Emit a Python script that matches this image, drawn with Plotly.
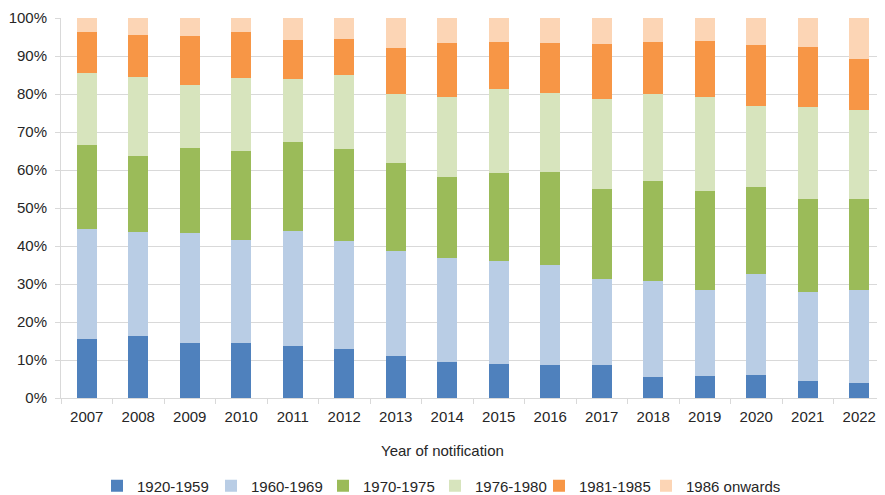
import plotly.graph_objects as go

years = [str(y) for y in range(2007, 2023)]
series_names = ["1920-1959", "1960-1969", "1970-1975", "1976-1980", "1981-1985", "1986 onwards"]
colors = ["#4F81BD", "#B9CDE5", "#9BBB59", "#D7E4BD", "#F79646", "#FCD5B5"]

# cumulative tops (percent), per series boundary
cum_1920_1959 = [15.5, 16.2, 14.4, 14.6, 13.6, 12.8, 11.0, 9.6, 8.9, 8.6, 8.6, 5.4, 5.7, 6.0, 4.4, 3.9]
cum_1960_1969 = [44.6, 43.8, 43.4, 41.5, 43.9, 41.3, 38.6, 36.9, 36.0, 35.1, 31.4, 30.9, 28.5, 32.7, 27.8, 28.5]
cum_1970_1975 = [66.5, 63.6, 65.7, 65.1, 67.3, 65.4, 61.8, 58.1, 59.3, 59.6, 55.1, 57.2, 54.6, 55.4, 52.4, 52.5]
cum_1976_1980 = [85.4, 84.5, 82.5, 84.1, 83.9, 84.9, 79.9, 79.2, 81.4, 80.3, 78.6, 80.0, 79.1, 76.9, 76.5, 75.9]
cum_1981_1985 = [96.2, 95.4, 95.2, 96.2, 94.1, 94.6, 92.0, 93.3, 93.6, 93.3, 93.1, 93.6, 94.0, 92.9, 92.3, 89.1]
cum_total = [100.0] * 16

cums = [cum_1920_1959, cum_1960_1969, cum_1970_1975, cum_1976_1980, cum_1981_1985, cum_total]

x_title = "Year of notification"

font_family = "Liberation Sans, Arial, sans-serif"
# the page body has an 8px margin, so the figure is sized/shifted to compensate
OFF = 8
W, H = 885 - OFF, 495 - OFF
L, R, T = 61 - OFF, 0, 18 - OFF
B = H - (398 - OFF)
plot_h = H - T - B
plot_w = W - L - R

# page x where each legend entry's text starts (reference layout, with small balance shift)
legend_text_x = [137, 251, 363, 475, 579, 686]

fig = go.Figure()
prev = [0.0] * len(years)
legend_layouts = {}
for i, (name, color, cum) in enumerate(zip(series_names, colors, cums)):
    vals = [round(c - p, 2) for c, p in zip(cum, prev)]
    prev = cum
    lg = "legend" if i == 0 else f"legend{i + 1}"
    fig.add_trace(go.Bar(
        x=years, y=vals, name=name,
        marker=dict(color=color, line=dict(width=0)),
        legend=lg,
    ))
    legend_layouts[lg] = dict(
        orientation="h",
        xref="container", yref="container",
        x=(legend_text_x[i] - 40 - OFF) / W, xanchor="left",
        y=1 - (486 - OFF) / H, yanchor="middle",
        font=dict(size=15, color="#262626"),
        itemwidth=30,
        bgcolor="rgba(0,0,0,0)",
    )

fig.update_layout(
    barmode="stack",
    bargap=0.61,
    width=W, height=H,
    margin=dict(l=L, r=R, t=T, b=B, autoexpand=False),
    paper_bgcolor="white",
    plot_bgcolor="white",
    font=dict(family=font_family, size=15, color="#262626"),
    showlegend=True,
    xaxis=dict(
        type="category",
        automargin=False,
        showgrid=False,
        showline=True,
        linecolor="#d9d9d9",
        linewidth=1,
        ticks="outside",
        tickson="boundaries",
        ticklen=5,
        tickcolor="#d9d9d9",
        tickfont=dict(size=15),
        ticklabelstandoff=5,
    ),
    yaxis=dict(
        automargin=False,
        range=[0, 100],
        dtick=10,
        ticksuffix="%",
        showgrid=True,
        gridcolor="#d9d9d9",
        gridwidth=1,
        showline=True,
        linecolor="#d9d9d9",
        zeroline=False,
        tickfont=dict(size=15),
        ticks="outside",
        ticklen=5,
        tickcolor="#d9d9d9",
        ticklabelstandoff=5,
    ),
    annotations=[dict(
        text=x_title,
        xref="paper", yref="paper",
        x=(442 - 61) / plot_w, y=(398 - 450) / plot_h,
        xanchor="center", yanchor="middle",
        showarrow=False,
        font=dict(size=15, color="#262626"),
    )],
    **legend_layouts,
)

fig.write_html("out.html")
